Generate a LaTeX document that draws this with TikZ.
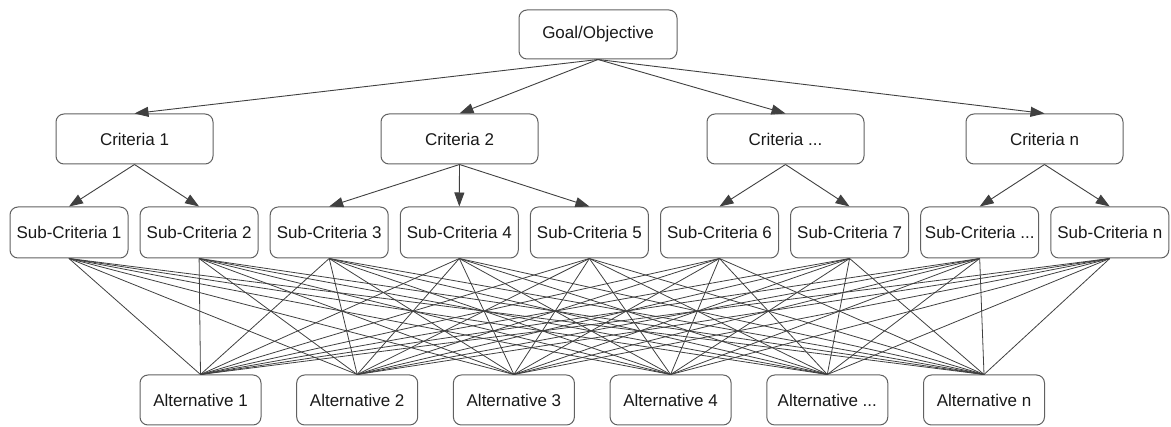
\documentclass[tikz,border=0pt]{standalone}
\usepackage{fontspec}
\setmainfont{Liberation Sans}
\usetikzlibrary{arrows.meta}
\begin{document}
\begin{tikzpicture}[x=1pt,y=-1pt,
  box/.style={draw=black!62,line width=1pt,rounded corners=8pt,inner sep=0pt,
    font=\fontsize{17}{20}\selectfont,text=black!90},
  goalbox/.style={box,minimum width=158pt,minimum height=49pt},
  critbox/.style={box,minimum width=157pt,minimum height=50pt},
  subbox/.style={box,minimum width=118pt,minimum height=51pt},
  altbox/.style={box,minimum width=121pt,minimum height=50pt},
  arr/.style={draw=black!75,line width=0.9pt,-{Triangle[length=14pt,width=10pt]}},
  link/.style={draw=black!75,line width=0.8pt}]
\useasboundingbox (0,0) rectangle (1171,427);
\def\dotstext{...}
\node[goalbox] (g) at (598,34.5) {Goal/Objective};
\node[critbox] (c1) at (134.5,139) {Criteria 1};
\node[critbox] (c2) at (459.5,139) {Criteria 2};
\node[critbox] (c3) at (785.5,139) {Criteria \dotstext};
\node[critbox] (c4) at (1044.5,139) {Criteria n};
\node[subbox] (s1) at (69,232.5) {Sub-Criteria 1};
\node[subbox] (s2) at (199.1,232.5) {Sub-Criteria 2};
\node[subbox] (s3) at (329.2,232.5) {Sub-Criteria 3};
\node[subbox] (s4) at (459.3,232.5) {Sub-Criteria 4};
\node[subbox] (s5) at (589.4,232.5) {Sub-Criteria 5};
\node[subbox] (s6) at (719.5,232.5) {Sub-Criteria 6};
\node[subbox] (s7) at (849.6,232.5) {Sub-Criteria 7};
\node[subbox] (s8) at (979.7,232.5) {Sub-Criteria \dotstext};
\node[subbox] (s9) at (1109.8,232.5) {Sub-Criteria n};
\node[altbox] (a1) at (200.5,400) {Alternative 1};
\node[altbox] (a2) at (357.2,400) {Alternative 2};
\node[altbox] (a3) at (513.9,400) {Alternative 3};
\node[altbox] (a4) at (670.6,400) {Alternative 4};
\node[altbox] (a5) at (827.3,400) {Alternative \dotstext};
\node[altbox] (a6) at (984,400) {Alternative n};
\foreach \c in {c1,c2,c3,c4} \draw[arr] (g.south) -- (\c.north);
\draw[arr] (c1.south) -- (s1.north);
\draw[arr] (c1.south) -- (s2.north);
\draw[arr] (c2.south) -- (s3.north);
\draw[arr] (c2.south) -- (s4.north);
\draw[arr] (c2.south) -- (s5.north);
\draw[arr] (c3.south) -- (s6.north);
\draw[arr] (c3.south) -- (s7.north);
\draw[arr] (c4.south) -- (s8.north);
\draw[arr] (c4.south) -- (s9.north);
\foreach \s in {1,2,3,4,5,6,7,8,9}
  \foreach \a in {1,2,3,4,5,6}
    \draw[link] (s\s.south) -- (a\a.north);
\end{tikzpicture}
\end{document}
